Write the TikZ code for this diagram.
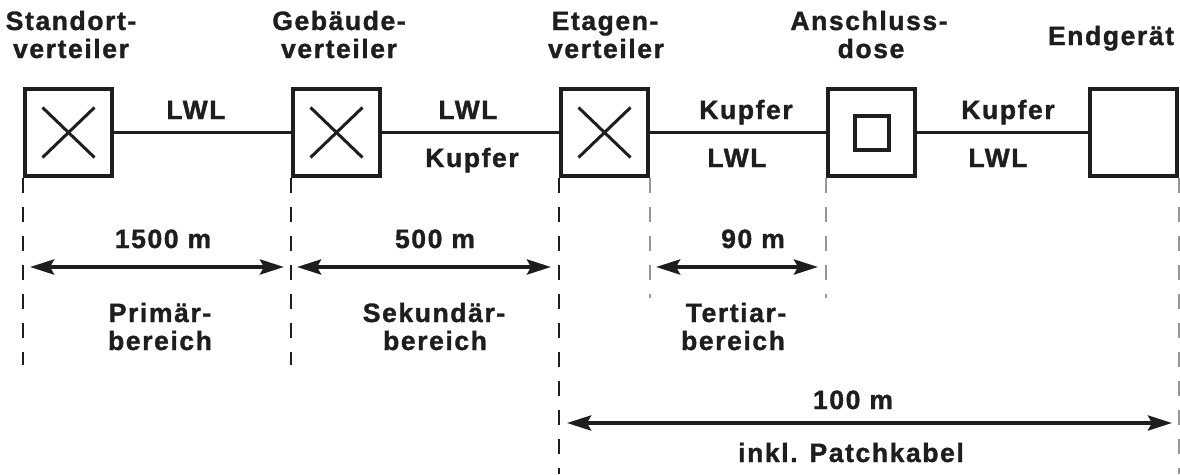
\documentclass[tikz,border=0pt]{standalone}
\usepackage{fontspec}
\setmainfont{Liberation Sans}[LetterSpace=6, BoldFeatures={FakeBold=1.3}]
\usetikzlibrary{arrows.meta}
\definecolor{dgray}{RGB}{150,150,150}
\definecolor{ink}{RGB}{30,30,30}
\begin{document}
\begin{tikzpicture}[x=1pt,y=-1pt, color=ink,
  lbl/.style={font=\fontsize{26.5}{28}\selectfont\bfseries, anchor=base, inner sep=0},
  dev/.style={draw, line width=4pt, minimum size=87pt, inner sep=0, anchor=center},
  inner/.style={draw, line width=3.5pt, minimum size=34pt, inner sep=0, anchor=center},
  cable/.style={line width=3.5pt},
  cross/.style={line width=3pt},
  dim/.style={line width=4pt, {Stealth[length=24pt,width=15pt,inset=4pt]}-{Stealth[length=24pt,width=15pt,inset=4pt]}},
  guide/.style={line width=2.5pt, dash pattern=on 15pt off 14pt},
  guideg/.style={guide, draw=dgray}]
\useasboundingbox (0,0) rectangle (1180,474);

% devices
\node[dev] (b1) at (68.5,132.5) {};
\node[dev] (b2) at (336.5,132.5) {};
\node[dev] (b3) at (604.5,132.5) {};
\node[dev] (b4) at (871.5,132.5) {};
\node[dev] (b5) at (1133.5,132.5) {};
\node[inner] (b4i) at (872,133) {};

\foreach \b in {b1,b2,b3}{
  \draw[cross] ([shift={(-26,-25)}]\b.center) -- ([shift={(26,25)}]\b.center);
  \draw[cross] ([shift={(-26,25)}]\b.center) -- ([shift={(26,-25)}]\b.center);
}

% cables
\draw[cable] (b1) -- (b2);
\draw[cable] (b2) -- (b3);
\draw[cable] (b3) -- (b4);
\draw[cable] (b4) -- (b5);

% top labels
\node[lbl] (t1a) at (71,30) {Standort-};
\node[lbl] (t1b) at (71,58) {verteiler};
\node[lbl] (t2a) at (339,30) {Gebäude-};
\node[lbl] (t2b) at (339,58) {verteiler};
\node[lbl] (t3a) at (605,30) {Etagen-};
\node[lbl] (t3b) at (606,58) {verteiler};
\node[lbl] (t4a) at (869,30) {Anschluss-};
\node[lbl] (t4b) at (871,58) {dose};
\node[lbl] (t5) at (1111,45) {Endgerät};

% cable labels
\node[lbl] (c1) at (196,119) {LWL};
\node[lbl] (c2a) at (468,119) {LWL};
\node[lbl] (c2b) at (472,167) {Kupfer};
\node[lbl] (c3a) at (746,119) {Kupfer};
\node[lbl] (c3b) at (737,167) {LWL};
\node[lbl] (c4a) at (1008,119) {Kupfer};
\node[lbl] (c4b) at (998,167) {LWL};

% guide lines
\coordinate (ya) at (0,365);
\coordinate (yb) at (0,474);
\coordinate (yc) at (0,298);
\draw[guide] (b1.south west) -- (b1.south west |- ya);
\draw[guide] (b2.south west) -- (b2.south west |- ya);
\draw[guide] (b3.south west) -- (b3.south west |- yb);
\draw[guideg] (b3.south east) -- (b3.south east |- yc);
\draw[guideg] (b4.south west) -- (b4.south west |- yc);
\draw[guideg] (b5.south east) -- (b5.south east |- yb);

% dimension arrows
\coordinate (a1l) at (30,267);
\coordinate (a1r) at (284,267);
\coordinate (a2l) at (297,267);
\coordinate (a2r) at (551,267);
\coordinate (a3l) at (656,267);
\coordinate (a3r) at (818,267);
\coordinate (a4l) at (567,423);
\coordinate (a4r) at (1172,423);
\draw[dim] (a1l) -- (a1r);
\draw[dim] (a2l) -- (a2r);
\draw[dim] (a3l) -- (a3r);
\draw[dim] (a4l) -- (a4r);

% dimension labels
\node[lbl] (d1) at (163,248) {1500 m};
\node[lbl] (d2) at (435,248) {500 m};
\node[lbl] (d3) at (753,248) {90 m};
\node[lbl] (d4) at (853,409) {100 m};
\node[lbl] (d4b) at (851,462) {inkl. Patchkabel};

\node[lbl] (r1a) at (160,322) {Primär-};
\node[lbl] (r1b) at (160,350) {bereich};
\node[lbl] (r2a) at (434,322) {Sekundär-};
\node[lbl] (r2b) at (435,350) {bereich};
\node[lbl] (r3a) at (736,322) {Tertiar-};
\node[lbl] (r3b) at (733,350) {bereich};
\end{tikzpicture}
\end{document}
